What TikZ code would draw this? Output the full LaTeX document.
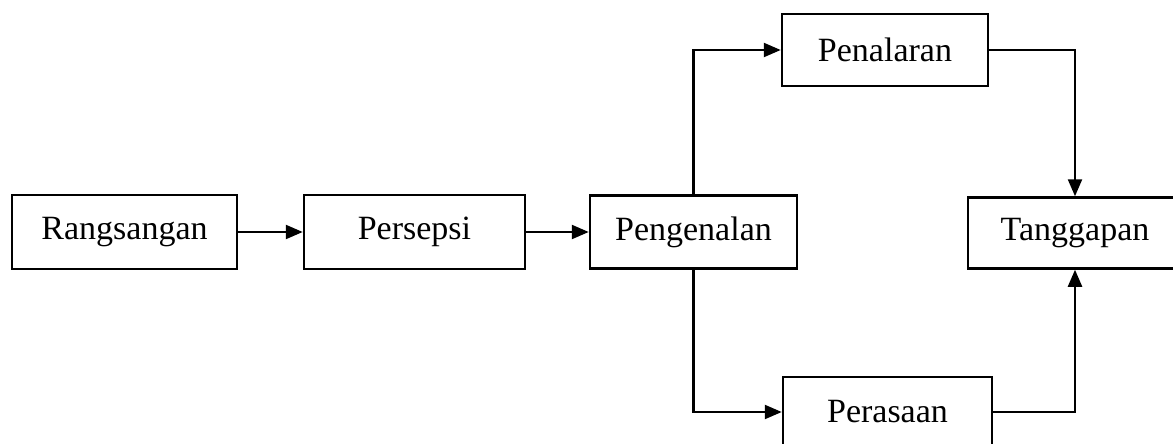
\documentclass[tikz,border=0pt]{standalone}
\usepackage{fontspec}
\setmainfont{Liberation Serif}
\usetikzlibrary{arrows.meta}
\begin{document}
\begin{tikzpicture}[x=1pt,y=-1pt,
  box/.style={draw, line width=2.5pt, rectangle, inner sep=0pt,
    font=\fontsize{34}{40}\selectfont},
  conn/.style={line width=2.3pt, -{Triangle[length=17pt,width=14pt]}}]
\useasboundingbox (0,0) rectangle (1173,444);
\clip (0,0) rectangle (1173,444);
\node[box, minimum width=225pt, minimum height=74pt] (ra) at (124.5,232) {Rangsangan};
\node[box, minimum width=221pt, minimum height=74pt] (pe) at (414.5,232) {Persepsi};
\node[box, minimum width=207pt, minimum height=73pt] (pg) at (693.5,232) {Pengenalan};
\node[box, minimum width=206pt, minimum height=72pt] (pn) at (885,50) {Penalaran};
\node[box, minimum width=214pt, minimum height=71pt] (tg) at (1075,233) {Tanggapan};
\node[box, minimum width=209pt, minimum height=70pt] (ps) at (887.5,412) {Perasaan};
\draw[conn] (ra.east) -- (pe.west);
\draw[conn] (pe.east) -- (pg.west);
\draw[conn] (pg.north) |- (pn.west);
\draw[conn] (pg.south) |- (ps.west);
\draw[conn] (pn.east) -| (tg.north);
\draw[conn] (ps.east) -| (tg.south);
\end{tikzpicture}
\end{document}
